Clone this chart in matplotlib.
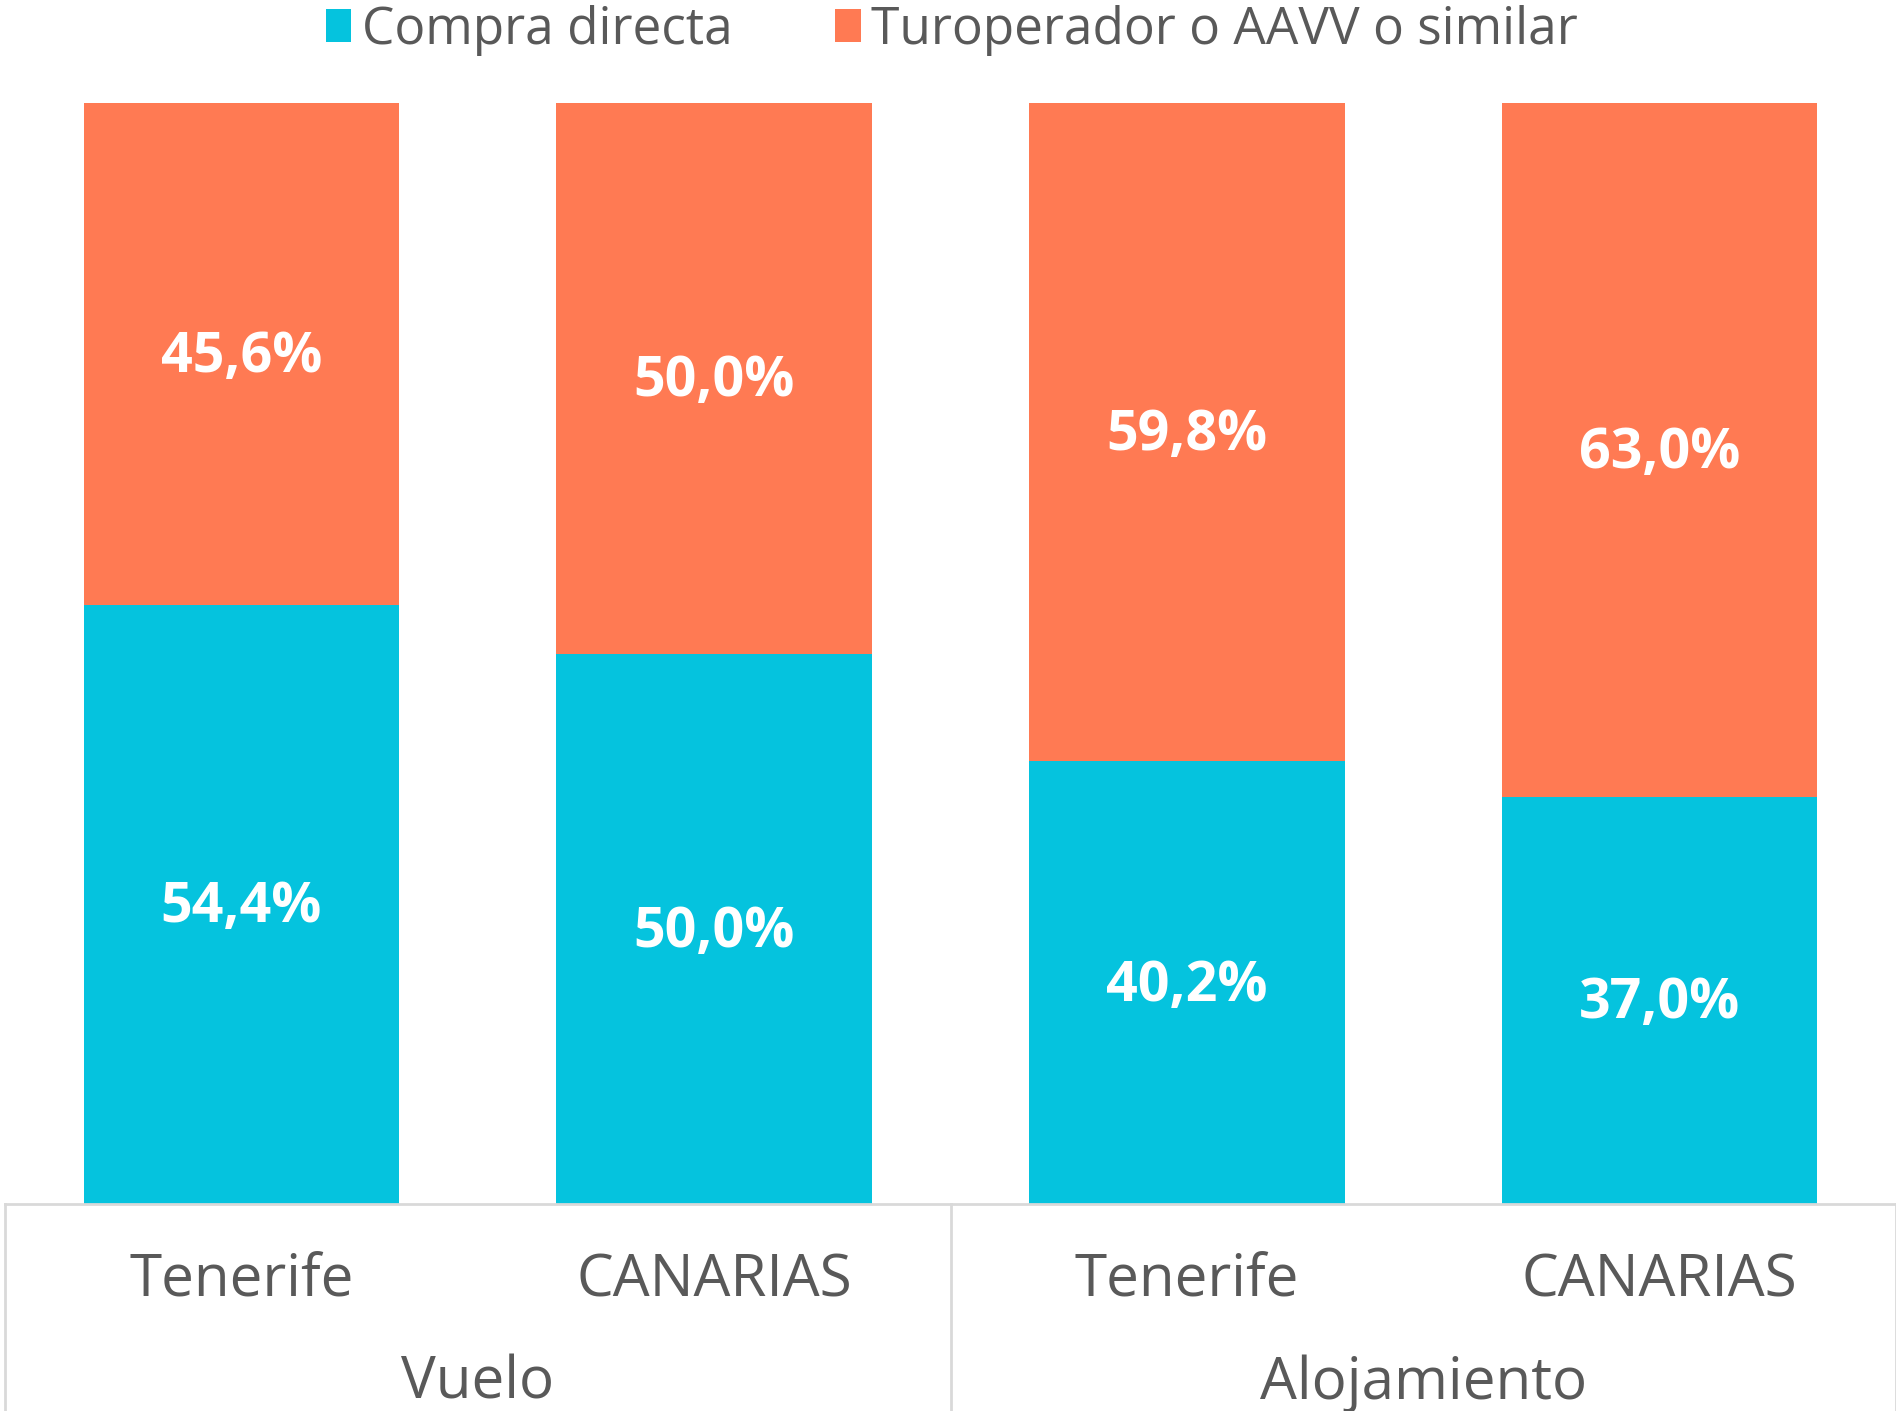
import matplotlib.pyplot as plt
import numpy as np

# Data (percent)
groups = ["Vuelo", "Alojamiento"]
places = ["Tenerife", "CANARIAS", "Tenerife", "CANARIAS"]
directa = [54.4, 50.0, 40.2, 37.0]
turoperador = [45.6, 50.0, 59.8, 63.0]
series_names = ["Compra directa", "Turoperador o AAVV o similar"]

cyan = "#05C3DE"
orange = "#FF7A53"
gray_text = "#595959"
line_gray = "#D9D9D9"

plt.rcParams["font.family"] = ["Open Sans", "DejaVu Sans"]

fig = plt.figure(figsize=(18.96, 14.11), dpi=100)
ax = fig.add_axes([5 / 1896, 1 - 1204 / 1411, 1 - 5 / 1896, 1101 / 1411])

x = np.arange(len(places))
width = 0.667
ax.bar(x, directa, width, color=cyan, label=series_names[0])
ax.bar(x, turoperador, width, bottom=directa, color=orange, label=series_names[1])

def fmt(v):
    return f"{v:.1f}%".replace(".", ",")

for i in range(len(places)):
    ax.text(x[i], directa[i] / 2 - 0.3, fmt(directa[i]), ha="center", va="center",
            color="white", fontsize=40, fontweight="bold")
    ax.text(x[i], directa[i] + turoperador[i] / 2 - 0.3, fmt(turoperador[i]), ha="center",
            va="center", color="white", fontsize=40, fontweight="bold")

ax.set_xlim(-0.5, len(places) - 0.5)
ax.set_ylim(0, 100)
ax.set_yticks([])
ax.set_xticks([])
for s in ["left", "right", "top"]:
    ax.spines[s].set_visible(False)
ax.spines["bottom"].set_color(line_gray)
ax.spines["bottom"].set_linewidth(2)

# category labels
trans = ax.get_xaxis_transform()
for i, p in enumerate(places):
    ax.text(x[i], -0.070, p, transform=trans, ha="center", va="center",
            fontsize=42, color=gray_text, clip_on=False)
for g, name in enumerate(groups):
    ax.text(g * 2 + 0.5, -0.163, name, transform=trans, ha="center", va="center",
            fontsize=42, color=gray_text, clip_on=False)

# group separators
for xs in [-0.5, 1.5, 3.5]:
    ax.plot([xs, xs], [0, -0.2], transform=trans, color=line_gray, lw=2, clip_on=False)

fig.legend(loc="center", bbox_to_anchor=(0.502, 1 - 30 / 1411), ncol=2, frameon=False,
           fontsize=37, labelcolor=gray_text, handlelength=0.5, handleheight=0.6,
           handletextpad=0.2, columnspacing=2.0)

fig.savefig("out.png", dpi=100)
